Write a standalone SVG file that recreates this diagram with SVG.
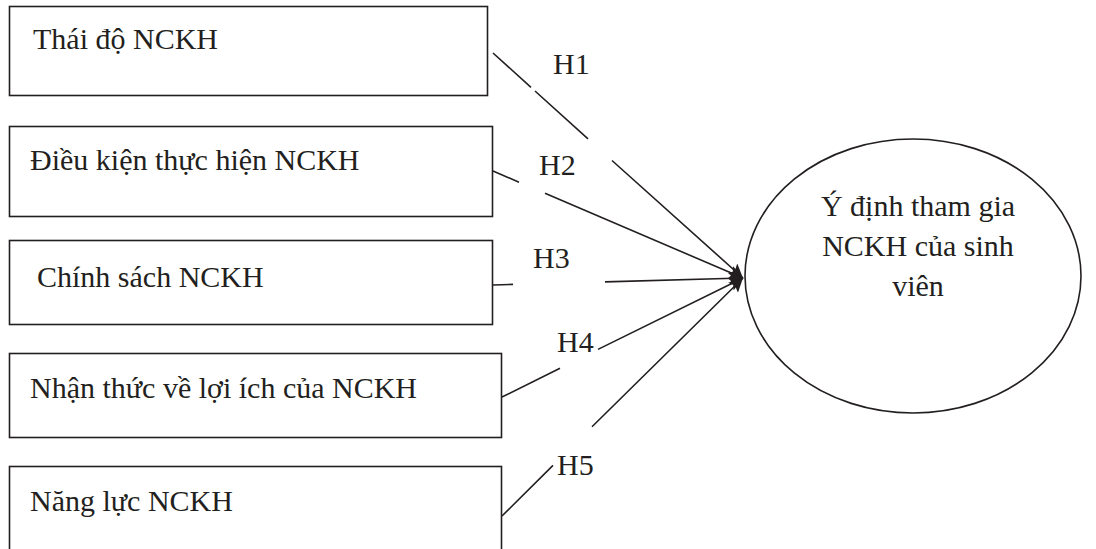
<svg xmlns="http://www.w3.org/2000/svg" width="1096" height="549" viewBox="0 0 1096 549">
  <style>
    .box { fill: #ffffff; stroke: #231f20; stroke-width: 1.6; }
    .oval { fill: #ffffff; stroke: #231f20; stroke-width: 1.6; }
    .lbl { font-family: "Liberation Serif", "Times New Roman", serif; font-size: 30px; fill: #231f20; }
    .mid { text-anchor: middle; }
    .edge { fill: none; stroke: #231f20; stroke-width: 1.6; marker-end: url(#head); }
  </style>
  <defs>
    <marker id="head" markerUnits="userSpaceOnUse" markerWidth="16" markerHeight="14" refX="14" refY="7" orient="auto">
      <path d="M0 0 L14 7 L0 14 L3 7 Z" fill="#231f20"/>
    </marker>
  </defs>
  <rect width="1096" height="549" fill="#ffffff"/>

  <!-- factor boxes -->
  <g id="node-thai-do">
    <rect class="box" x="9.5" y="6.5" width="478" height="89"/>
    <text class="lbl" x="33" y="49">Thái độ NCKH</text>
  </g>
  <g id="node-dieu-kien">
    <rect class="box" x="9.5" y="126.5" width="483" height="90"/>
    <text class="lbl" x="30" y="170">Điều kiện thực hiện NCKH</text>
  </g>
  <g id="node-chinh-sach">
    <rect class="box" x="9.5" y="240.5" width="483" height="84"/>
    <text class="lbl" x="37" y="287">Chính sách NCKH</text>
  </g>
  <g id="node-nhan-thuc">
    <rect class="box" x="9.5" y="353.5" width="492" height="84"/>
    <text class="lbl" x="30" y="398">Nhận thức về lợi ích của NCKH</text>
  </g>
  <g id="node-nang-luc">
    <rect class="box" x="9.5" y="466.5" width="492" height="100"/>
    <text class="lbl" x="30" y="511">Năng lực NCKH</text>
  </g>

  <!-- outcome -->
  <g id="node-y-dinh">
    <ellipse class="oval" cx="913" cy="276" rx="168" ry="137"/>
    <text class="lbl mid" x="918" y="216">Ý định tham gia</text>
    <text class="lbl mid" x="918" y="256">NCKH của sinh</text>
    <text class="lbl mid" x="918" y="296">viên</text>
  </g>

  <!-- hypothesis paths, broken where the labels sit -->
  <g id="connectors">
    <path class="edge" d="M493 53 L531 87.3 M535 91 L588 138.8 M612 160.5 L743 278"/>
    <path class="edge" d="M493 171 L519 182.2 M545 193.3 L743 278"/>
    <path class="edge" d="M493 285 L513 284.4 M605 281.9 L743 278"/>
    <path class="edge" d="M502 397 L560 368.2 M598 349.4 L743 278"/>
    <path class="edge" d="M502 516 L553 465.4 M592 426.7 L743 278"/>
    <text class="lbl" x="553" y="74">H1</text>
    <text class="lbl" x="539" y="175">H2</text>
    <text class="lbl" x="533" y="268">H3</text>
    <text class="lbl" x="557" y="352">H4</text>
    <text class="lbl" x="557" y="475">H5</text>
  </g>
</svg>
